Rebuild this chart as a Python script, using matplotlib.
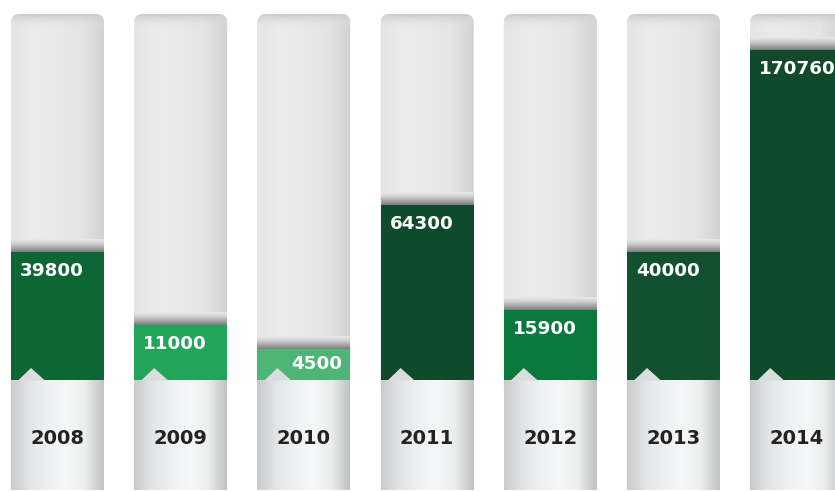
import numpy as np
import matplotlib.pyplot as plt
from matplotlib.patches import FancyBboxPatch, Polygon
from matplotlib.colors import LinearSegmentedColormap

# data
years = ['2008', '2009', '2010', '2011', '2012', '2013', '2014']
values = [39800, 11000, 4500, 64300, 15900, 40000, 170760]
colors = ['#0f6635', '#21a55a', '#4db575', '#104a2c', '#0a7a3c', '#12512f', '#0f4a2c']

W, H = 835, 492
x_left0, step, col_w = 11, 123.2, 93
track_top, base_top = 14, 380

fig = plt.figure(figsize=(W / 100, H / 100), dpi=100)
bg = fig.add_axes([0, 0, 1, 1])
bg.set_xlim(0, W)
bg.set_ylim(H, 0)
bg.axis('off')

# infographic scale: bar height ~ value ** 0.65
k, p = 0.131, 0.65
def fwd(v):
    return k * np.sign(v) * np.abs(v) ** p
def inv(h):
    return np.sign(h) * (np.abs(h) / k) ** (1 / p)

ax = fig.add_axes([0, (H - base_top) / H, 1, (base_top - track_top) / H])
ax.set_yscale('function', functions=(fwd, inv))
ax.set_xlim(0, W)
ax.set_ylim(0, inv(base_top - track_top))
ax.axis('off')
ax.patch.set_alpha(0)

# overlay for notches and labels
fg = fig.add_axes([0, 0, 1, 1])
fg.set_xlim(0, W)
fg.set_ylim(H, 0)
fg.axis('off')
fg.patch.set_alpha(0)

track_cmap = LinearSegmentedColormap.from_list('tr', ['#e5e5e6', '#ebebec', '#e9e9ea', '#e5e5e6', '#d2d2d3'])
base_cmap = LinearSegmentedColormap.from_list('bs', ['#c9cbcd', '#e3e4e6', '#eff0f1', '#f6f7f8', '#eceded', '#bfc1c2'])
shade_cmap = LinearSegmentedColormap.from_list('sh', ['#e9e9ea', '#d0d0d0', '#a8a8a8', '#7f7f7f'])

grad = np.linspace(0, 1, 200).reshape(1, -1)

for i, (yr, v, c) in enumerate(zip(years, values, colors)):
    x0 = x_left0 + i * step
    x1 = x0 + col_w
    xc = x0 + col_w / 2

    # gray track with rounded top
    tr = FancyBboxPatch((x0, track_top), col_w, base_top - track_top + 20,
                        boxstyle='round,pad=0,rounding_size=9', fc='#e9e9ea', ec='none', zorder=1)
    bg.add_patch(tr)
    im = bg.imshow(grad, cmap=track_cmap, extent=(x0, x1, base_top, track_top), aspect='auto', zorder=1.2)
    im.set_clip_path(tr)
    top_sh = np.linspace(1, 0, 50).reshape(-1, 1)
    im2 = bg.imshow(top_sh, cmap=LinearSegmentedColormap.from_list('t', [(0.9, 0.9, 0.9, 0), (0.8, 0.8, 0.8, 1)]),
                    extent=(x0, x1, track_top + 14, track_top), aspect='auto', zorder=1.3)
    im2.set_clip_path(tr)

    # green bar from the value
    ax.bar(xc, v, width=col_w, color=c, zorder=3)

    # shadow just above the green top
    top_px = H - ax.transData.transform((xc, v))[1]
    sh = np.linspace(0, 1, 50).reshape(-1, 1)
    bg.imshow(sh, cmap=shade_cmap, extent=(x0, x1, top_px, top_px - 13), aspect='auto', zorder=1.5)

    # value label
    h_px = base_top - top_px
    if h_px < 40:
        fg.text(x1 - 8, (top_px + base_top) / 2, f'{v}', color='white', fontsize=13.2,
                fontweight='bold', ha='right', va='center', zorder=5)
    else:
        fg.text(x0 + 9, top_px + 19, f'{v}', color='white', fontsize=13.2,
                fontweight='bold', ha='left', va='center', zorder=5)

    # base block with gradient and the notch
    bg.imshow(grad, cmap=base_cmap, extent=(x0, x1, H - 2, base_top), aspect='auto', zorder=4)
    fg.add_patch(Polygon([(x0 + 7, base_top + 0.5), (x0 + 20, base_top - 12),
                          (x0 + 34, base_top + 0.5)], closed=True, fc='#dbdcde', ec='none', zorder=4.5))
    fg.text(xc, 439, yr, color='#222222', fontsize=14, fontweight='bold',
            ha='center', va='center', zorder=5)

fig.savefig('out.png', dpi=100, facecolor='white')
